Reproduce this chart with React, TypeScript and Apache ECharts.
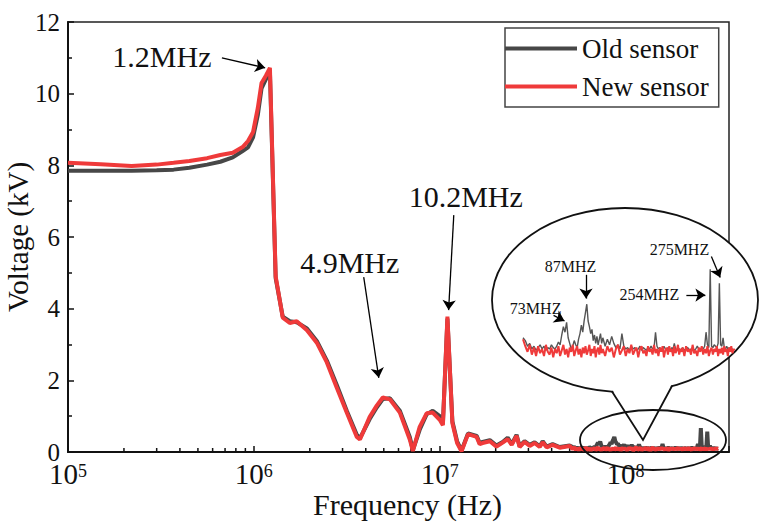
import React, { useEffect, useRef } from "react";
import * as echarts from "echarts";

// ---------- data ----------
const freqMainHz = [
  1e5, 1.5e5, 2.2e5, 3e5, 3.7e5, 4.5e5, 5.6e5, 6.6e5, 7.7e5, 8.7e5, 9.3e5, 9.9e5,
  1.05e6, 1.1e6, 1.16e6, 1.22e6, 1.31e6, 1.43e6, 1.56e6, 1.7e6, 1.93e6, 2.18e6,
  2.47e6, 2.79e6, 3.16e6, 3.58e6, 3.72e6, 4.2e6, 4.59e6, 4.94e6, 5.39e6, 6.1e6,
  6.9e6, 7.17e6, 7.8e6, 8.5e6, 9.17e6, 1.0e7, 1.04e7, 1.1e7, 1.17e7, 1.24e7,
  1.31e7, 1.42e7, 1.58e7, 1.64e7, 1.7e7, 1.86e7, 2.02e7, 2.18e7, 2.32e7, 2.44e7,
  2.59e7, 2.69e7, 2.86e7, 3.05e7, 3.24e7, 3.45e7, 3.58e7, 3.76e7, 4.05e7, 4.42e7,
];
const oldMain = [
  7.85, 7.85, 7.85, 7.86, 7.88, 7.93, 8.02, 8.1, 8.22, 8.4, 8.5, 8.78,
  9.4, 10.15, 10.4, 10.62, 4.85, 3.78, 3.65, 3.62, 3.45, 3.1,
  2.55, 1.88, 1.15, 0.48, 0.38, 0.92, 1.25, 1.48, 1.5, 1.15,
  0.42, 0.05, 0.62, 1.05, 1.15, 1.0, 0.8, 3.72, 0.85, 0.3,
  0.04, 0.52, 0.45, 0.25, 0.28, 0.33, 0.18, 0.28, 0.4, 0.22,
  0.48, 0.16, 0.3, 0.2, 0.27, 0.16, 0.3, 0.15, 0.22, 0.14,
];
const newMain = [
  8.07, 8.03, 7.98, 8.02, 8.07, 8.12, 8.2, 8.29, 8.35, 8.51, 8.68, 8.93,
  9.6, 10.3, 10.5, 10.72, 4.9, 3.75, 3.6, 3.65, 3.4, 3.05,
  2.5, 1.8, 1.1, 0.42, 0.35, 0.98, 1.3, 1.52, 1.47, 1.1,
  0.35, 0.03, 0.7, 1.08, 1.1, 0.9, 0.75, 3.78, 0.8, 0.25,
  0.02, 0.5, 0.42, 0.22, 0.25, 0.3, 0.15, 0.26, 0.36, 0.2,
  0.45, 0.14, 0.28, 0.17, 0.25, 0.14, 0.27, 0.13, 0.2, 0.12,
];

// high-frequency tail (MHz), also shown in the inset
const tailMHz = [
  50, 51, 52, 53, 54, 55, 56, 57, 58, 59, 60, 61, 62, 63, 64, 65, 66, 67, 68, 69,
  70, 71, 72, 73, 74, 75, 76, 77, 78, 79, 80, 81, 82, 83, 84, 85, 86, 87, 88, 89,
  90, 91, 92, 93, 94, 95, 96, 97, 98, 99, 100,
  102, 104, 106, 108, 110, 112, 114, 116, 118, 120, 122, 124, 126, 128, 130, 132,
  134, 136, 138, 140, 142, 144, 146, 148, 150, 152, 154, 156, 158, 160, 162, 164,
  166, 168, 170, 172, 174, 176, 178, 180, 182, 184, 186, 188, 190, 192, 194, 196,
  198, 200,
  203, 206, 209, 212, 215, 218, 221, 224, 227, 230, 233, 236, 239, 242, 245, 248,
  251, 254, 257, 260, 263, 266, 269, 272, 275, 278, 281, 284, 287, 290, 293, 296,
  299, 302, 305, 308, 311, 314,
];
const tailOld = [
  0.18, 0.16, 0.12, 0.14, 0.10, 0.12, 0.09, 0.11, 0.13, 0.10, 0.12, 0.09, 0.11, 0.10, 0.13, 0.11, 0.10, 0.12, 0.15, 0.13,
  0.20, 0.26, 0.22, 0.29, 0.18, 0.14, 0.10, 0.12, 0.16, 0.13, 0.11, 0.17, 0.21, 0.27, 0.22, 0.30, 0.36, 0.42, 0.30, 0.26,
  0.21, 0.24, 0.16, 0.20, 0.14, 0.19, 0.13, 0.17, 0.21, 0.14, 0.18,
  0.12, 0.17, 0.13, 0.19, 0.14, 0.11, 0.13, 0.10, 0.21, 0.12, 0.10, 0.11, 0.09, 0.12, 0.10, 0.11,
  0.09, 0.10, 0.12, 0.09, 0.11, 0.10, 0.09, 0.11, 0.10, 0.12, 0.10, 0.11, 0.22, 0.12, 0.10, 0.11,
  0.09, 0.10, 0.12, 0.10, 0.09, 0.11, 0.10, 0.09, 0.11, 0.10, 0.14, 0.10, 0.09, 0.11, 0.10, 0.09,
  0.10, 0.11,
  0.09, 0.10, 0.11, 0.09, 0.10, 0.11, 0.09, 0.10, 0.12, 0.10, 0.09, 0.11, 0.10, 0.12, 0.22, 0.13,
  0.11, 0.67, 0.12, 0.11, 0.13, 0.12, 0.11, 0.14, 0.57, 0.13, 0.12, 0.18, 0.11, 0.10, 0.12, 0.10,
  0.11, 0.10, 0.09, 0.10, 0.09, 0.10,
];
const tailNew = [
  0.17, 0.12, 0.08, 0.13, 0.06, 0.11, 0.05, 0.12, 0.07, 0.10, 0.05, 0.13, 0.08, 0.06, 0.11, 0.04, 0.10, 0.07, 0.12, 0.05,
  0.09, 0.13, 0.06, 0.10, 0.04, 0.11, 0.08, 0.13, 0.05, 0.09, 0.12, 0.06, 0.10, 0.04, 0.11, 0.07, 0.12, 0.06, 0.09, 0.13,
  0.05, 0.10, 0.07, 0.12, 0.04, 0.09, 0.11, 0.06, 0.13, 0.07, 0.10,
  0.05, 0.12, 0.08, 0.11, 0.04, 0.10, 0.13, 0.06, 0.09, 0.12, 0.05, 0.10, 0.07, 0.13, 0.06, 0.09,
  0.11, 0.04, 0.10, 0.12, 0.07, 0.09, 0.05, 0.12, 0.08, 0.10, 0.06, 0.13, 0.07, 0.10, 0.05, 0.11,
  0.08, 0.12, 0.04, 0.09, 0.11, 0.06, 0.12, 0.08, 0.10, 0.05, 0.12, 0.07, 0.09, 0.13, 0.06, 0.10,
  0.08, 0.11,
  0.05, 0.12, 0.08, 0.10, 0.06, 0.13, 0.07, 0.09, 0.05, 0.11, 0.08, 0.12, 0.06, 0.10, 0.07, 0.12,
  0.05, 0.09, 0.11, 0.06, 0.10, 0.08, 0.12, 0.05, 0.10, 0.07, 0.11, 0.06, 0.12, 0.08, 0.10, 0.05,
  0.11, 0.08, 0.12, 0.07, 0.10, 0.09,
];

const minorTicksHz = [
  2e5, 3e5, 4e5, 5e5, 6e5, 7e5, 8e5, 9e5,
  2e6, 3e6, 4e6, 5e6, 6e6, 7e6, 8e6, 9e6,
  2e7, 3e7, 4e7, 5e7, 6e7, 7e7, 8e7, 9e7,
  2e8, 3e8,
];

const seriesNames = ["Old sensor", "New sensor"];

// annotations in data coordinates: text position, arrow start, arrow tip
const mainNotes = [
  { text: "1.2MHz", at: [3.2e5, 11.05], from: [6.73e5, 11.0], to: [1.15e6, 10.72] },
  { text: "4.9MHz", at: [3.28e6, 5.3], from: [3.9e6, 4.88], to: [4.7e6, 2.07] },
  { text: "10.2MHz", at: [1.38e7, 7.12], from: [1.19e7, 6.61], to: [1.116e7, 3.96] },
];
const insetNotes = [
  { text: "73MHZ", at: [55.8, 0.39], from: [65.2, 0.34], to: [71.7, 0.3] },
  { text: "87MHZ", at: [75.6, 0.69], from: [86.4, 0.63], to: [86.4, 0.46] },
  { text: "254MHZ", at: [149.8, 0.49], from: [206.5, 0.485], to: [243.6, 0.485] },
  { text: "275MHZ", at: [194.4, 0.81], from: [256.6, 0.76], to: [277, 0.61] },
];

const FONT = "'Liberation Serif', 'Times New Roman', serif";
const INK = "#111";
const DARK = "#474747";
const RED = "#ef3a3a";

function buildOption() {
  const oldData = freqMainHz
    .map((f, i) => [f, oldMain[i]])
    .concat(tailMHz.map((m, i) => [m * 1e6, tailOld[i]]));
  const newData = freqMainHz
    .map((f, i) => [f, newMain[i]])
    .concat(tailMHz.map((m, i) => [m * 1e6, tailNew[i]]));
  const insetOld = tailMHz.map((m, i) => [m, tailOld[i]]);
  const insetNew = tailMHz.map((m, i) => [m, tailNew[i]]);

  const arrowLines = (notes: any[], z: number) => ({
    silent: true,
    z,
    symbol: ["none", "arrow"],
    symbolSize: 10,
    lineStyle: { color: "#000", width: 1.3, type: "solid" },
    itemStyle: { color: "#000" },
    label: { show: false },
    emphasis: { disabled: true },
    data: notes.map((n) => [{ coord: n.from }, { coord: n.to }]),
  });
  const noteTexts = (notes: any[], size: number, z: number) => ({
    silent: true,
    z,
    symbol: "circle",
    symbolSize: 0,
    itemStyle: { color: "rgba(0,0,0,0)" },
    label: {
      show: true,
      position: "inside",
      formatter: "{b}",
      fontSize: size,
      fontFamily: FONT,
      color: INK,
    },
    emphasis: { disabled: true },
    data: notes.map((n) => ({ name: n.text, coord: n.at })),
  });

  return {
    animation: false,
    backgroundColor: "#fff",
    textStyle: { fontFamily: FONT },
    grid: [
      {
        left: 68, right: 40, top: 22, bottom: 74,
        show: true, borderColor: "#222", borderWidth: 1.5,
        containLabel: false, outerBoundsMode: "none",
      },
      { left: 523, top: 237, width: 212, height: 126, show: false, containLabel: false, outerBoundsMode: "none" },
    ],
    xAxis: [
      {
        type: "log", gridIndex: 0, logBase: 10, min: 1e5, max: 3.6e8,
        axisLine: { show: true, lineStyle: { color: INK, width: 2 } },
        axisTick: { show: true, inside: true, length: 6, lineStyle: { color: INK, width: 1.5 } },
        minorTick: { show: false },
        splitLine: { show: false },
        axisLabel: {
          margin: 10,
          formatter: (v: number) => {
            const e = Math.log10(v);
            const r = Math.round(e);
            if (Math.abs(e - r) > 1e-6) return "";
            return `{b|10}{s|${r}}`;
          },
          rich: {
            b: { fontSize: 29, fontFamily: FONT, color: INK, lineHeight: 20, padding: [4, 0, 0, 0] },
            s: { fontSize: 18, fontFamily: FONT, color: INK, lineHeight: 16, verticalAlign: "top" },
          },
        },
        name: "Frequency (Hz)",
        nameLocation: "middle",
        nameGap: 38,
        nameMoveOverlap: false,
        nameTextStyle: { fontSize: 30, lineHeight: 28, fontFamily: FONT, color: INK, padding: [0, 0, 0, 18] },
      },
      { type: "log", gridIndex: 1, logBase: 10, min: 50, max: 315, show: false },
    ],
    yAxis: [
      {
        type: "value", gridIndex: 0, min: 0, max: 12, interval: 2,
        axisLine: { show: true, onZero: false, lineStyle: { color: INK, width: 2 } },
        axisTick: { show: true, inside: true, length: 6, lineStyle: { color: INK, width: 1.5 } },
        minorTick: { show: true, splitNumber: 2, length: 4, lineStyle: { color: INK, width: 1.5 } },
        splitLine: { show: false },
        axisLabel: { fontSize: 25, lineHeight: 16, fontFamily: FONT, color: INK, margin: 8 },
        name: "Voltage (kV)",
        nameLocation: "middle",
        nameGap: 36,
        nameMoveOverlap: false,
        nameRotate: 90,
        nameTextStyle: { fontSize: 29, lineHeight: 29, fontFamily: FONT, color: INK },
      },
      { type: "value", gridIndex: 1, min: 0, max: 0.9, show: false },
    ],
    legend: {
      data: seriesNames,
      orient: "vertical",
      left: 505,
      top: 28,
      padding: [7, 10, 7, 0],
      itemGap: 11,
      itemWidth: 72,
      itemHeight: 4,
      icon: "rect",
      borderColor: "#444",
      borderWidth: 1.5,
      backgroundColor: "#fff",
      selectedMode: false,
      textStyle: { fontSize: 27, lineHeight: 26, fontFamily: FONT, color: INK },
    },
    series: [
      {
        name: seriesNames[0], type: "line", xAxisIndex: 0, yAxisIndex: 0,
        data: oldData, symbol: "none", showSymbol: false, z: 2,
        lineStyle: { color: DARK, width: 4 }, itemStyle: { color: DARK },
      },
      {
        name: seriesNames[1], type: "line", xAxisIndex: 0, yAxisIndex: 0,
        data: newData, symbol: "none", showSymbol: false, z: 3,
        lineStyle: { color: RED, width: 4 }, itemStyle: { color: RED },
        markLine: arrowLines(mainNotes, 5),
        markPoint: noteTexts(mainNotes, 30, 5),
      },
      {
        type: "custom", xAxisIndex: 0, yAxisIndex: 0, silent: true, z: 1, clip: false,
        data: minorTicksHz.map((f) => [f, 0]),
        encode: { x: 0, y: 1 },
        renderItem: (_p: any, api: any) => {
          const pt = api.coord([api.value(0), 0]);
          return {
            type: "line",
            shape: { x1: pt[0], y1: pt[1], x2: pt[0], y2: pt[1] - 4 },
            style: { stroke: INK, lineWidth: 1.5 },
          };
        },
      },
      {
        name: "Old sensor (inset)", type: "line", xAxisIndex: 1, yAxisIndex: 1,
        data: insetOld, symbol: "none", showSymbol: false, z: 10, clip: false,
        lineStyle: { color: "#555", width: 1.4 }, itemStyle: { color: "#555" },
      },
      {
        name: "New sensor (inset)", type: "line", xAxisIndex: 1, yAxisIndex: 1,
        data: insetNew, symbol: "none", showSymbol: false, z: 11, clip: false,
        lineStyle: { color: RED, width: 2 }, itemStyle: { color: RED },
        markLine: arrowLines(insetNotes, 12),
        markPoint: noteTexts(insetNotes, 16, 12),
      },
    ],
    graphic: [
      {
        type: "ellipse", z: 6, silent: true,
        shape: { cx: 625, cy: 300, rx: 133, ry: 92 },
        style: { fill: "#fff", stroke: INK, lineWidth: 1.8 },
      },
      {
        type: "polygon", z: 6, silent: true,
        shape: { points: [[613, 391], [616, 378], [668, 374], [671, 386], [643, 439]] },
        style: { fill: "#fff", stroke: "none" },
      },
      {
        type: "polyline", z: 6, silent: true,
        shape: { points: [[612, 391.5], [643, 440], [672, 386]] },
        style: { fill: "none", stroke: INK, lineWidth: 1.8 },
      },
      {
        type: "ellipse", z: 7, silent: true,
        shape: { cx: 653, cy: 440, rx: 73, ry: 30 },
        style: { fill: "none", stroke: INK, lineWidth: 1.8 },
      },
    ],
  };
}

export default function App() {
  const ref = useRef<HTMLDivElement>(null);
  useEffect(() => {
    document.body.style.margin = "0";
    if (!ref.current) return;
    const chart = echarts.init(ref.current, null, { renderer: "svg" });
    chart.setOption(buildOption() as any);
    return () => chart.dispose();
  }, []);
  return (
    <div
      ref={ref}
      style={{ position: "fixed", left: 0, top: 0, width: 769, height: 526, background: "#fff" }}
    />
  );
}
